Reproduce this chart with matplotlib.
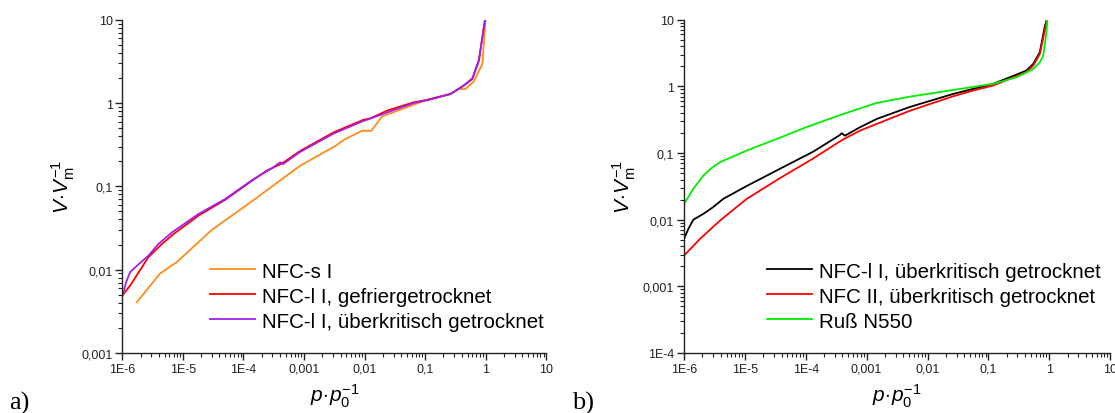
import numpy as np
import matplotlib
matplotlib.use("Agg")
import matplotlib.pyplot as plt
from matplotlib.ticker import LogLocator, FuncFormatter, NullFormatter

plt.rcParams['font.family'] = ['Liberation Sans', 'DejaVu Sans']
plt.rcParams['mathtext.fontset'] = 'custom'
plt.rcParams['mathtext.rm'] = 'Liberation Sans'
plt.rcParams['mathtext.it'] = 'Liberation Sans:italic'

# a) NFC-s I
ns_x = [1.73e-6, 4.2e-6, 7.9e-6, 3.0e-5, 1.56e-4, 4.3e-4, 8.7e-4, 3.4e-3, 4.5e-3,
        9.06e-3, 0.0129, 0.0194, 0.032, 0.107, 0.278, 0.358, 0.46, 0.63, 0.88, 0.99]
ns_y = [0.00405, 0.0090, 0.0123, 0.030, 0.0705, 0.122, 0.177, 0.31, 0.36,
        0.464, 0.464, 0.69, 0.79, 1.09, 1.31, 1.47, 1.47, 1.80, 2.94, 10]

# a) NFC-l I, gefriergetrocknet
nlg_x = [1e-6, 1.34e-6, 2.69e-6, 4.5e-6, 7.0e-6, 1.8e-5, 5.0e-5, 1.46e-4, 2.4e-4,
         3.8e-4, 4.4e-4, 8.7e-4, 3.08e-3, 9.6e-3, 0.0124, 0.0234, 0.0645, 0.107,
         0.26, 0.43, 0.6, 0.77, 0.97]
nlg_y = [0.0049, 0.0064, 0.0141, 0.0203, 0.0267, 0.0444, 0.069, 0.12, 0.154,
         0.18, 0.19, 0.267, 0.445, 0.63, 0.654, 0.81, 1.02, 1.09,
         1.28, 1.61, 1.94, 3.2, 10]

# a) NFC-l I, überkritisch getrocknet
nlu_x = [1e-6, 1.15e-6, 1.34e-6, 1.73e-6, 2.69e-6, 3.94e-6, 6.6e-6, 1.8e-5, 5.0e-5,
         1.46e-4, 3.0e-4, 4.0e-4, 4.5e-4, 8.7e-4, 3.08e-3, 9.6e-3, 0.0124, 0.0234,
         0.0645, 0.107, 0.26, 0.43, 0.6, 0.77, 0.97]
nlu_y = [0.0048, 0.0070, 0.0093, 0.0111, 0.0147, 0.0203, 0.028, 0.0465, 0.0705,
         0.122, 0.166, 0.194, 0.185, 0.26, 0.43, 0.61, 0.65, 0.77,
         1.0, 1.08, 1.28, 1.62, 1.98, 3.3, 10]

# b) NFC-l I, überkritisch getrocknet
b_x = [1e-6, 1.18e-6, 1.42e-6, 2.07e-6, 3.0e-6, 4.4e-6, 1.07e-5, 3.77e-5, 1.33e-4,
       3.6e-4, 3.9e-4, 4.4e-4, 7.8e-4, 1.46e-3, 5.1e-3, 0.0264, 0.06, 0.12, 0.42,
       0.545, 0.70, 0.85, 0.92]
b_y = [0.00515, 0.0073, 0.010, 0.0122, 0.0154, 0.0205, 0.032, 0.058, 0.105,
       0.185, 0.198, 0.182, 0.244, 0.324, 0.49, 0.77, 0.93, 1.09, 1.72,
       2.17, 3.25, 8.1, 10]

# b) NFC II, überkritisch getrocknet
r_x = [1e-6, 1.83e-6, 3.9e-6, 1.07e-5, 3.77e-5, 1.33e-4, 4.1e-4, 7.8e-4, 1.46e-3,
       5.1e-3, 0.0264, 0.06, 0.12, 0.42, 0.545, 0.70, 0.85, 0.91]
r_y = [0.0029, 0.00515, 0.0097, 0.0205, 0.042, 0.083, 0.16, 0.217, 0.273,
       0.43, 0.71, 0.88, 1.03, 1.63, 2.05, 3.06, 7.0, 10]

# b) Ruß N550
g_x = [1e-6, 1.18e-6, 1.42e-6, 2.07e-6, 2.8e-6, 3.9e-6, 6.0e-6, 1.07e-5, 3.77e-5,
       1.03e-4, 4.1e-4, 1.46e-3, 5.1e-3, 0.034, 0.12, 0.29, 0.545, 0.70, 0.795,
       0.855, 0.90, 0.935]
g_y = [0.0173, 0.022, 0.029, 0.0458, 0.059, 0.0728, 0.0865, 0.1087, 0.17,
       0.245, 0.385, 0.564, 0.70, 0.914, 1.09, 1.37, 1.82, 2.3, 2.89,
       4.6, 6.5, 10]

x_labels = {-6: '1E-6', -5: '1E-5', -4: '1E-4', -3: '0,001', -2: '0,01',
            -1: '0,1', 0: '1', 1: '10'}


def fmt(v, pos):
    e = int(round(np.log10(v)))
    return x_labels.get(e, '')


fig = plt.figure(figsize=(11.15, 4.14), dpi=100)
ax1 = fig.add_axes([0.1097, 0.145, 0.3803, 0.805])
ax2 = fig.add_axes([0.6135, 0.145, 0.3821, 0.805])

lw = 1.3
ax1.plot(ns_x, ns_y, color='#FF8C1A', lw=lw, label='NFC-s I')
ax1.plot(nlg_x, nlg_y, color='#FF0000', lw=lw, label='NFC-l I, gefriergetrocknet')
ax1.plot(nlu_x, nlu_y, color='#A020F0', lw=lw, label='NFC-l I, überkritisch getrocknet')
ax1.set_ylim(1e-3, 10)

ax2.plot(b_x, b_y, color='black', lw=lw, label='NFC-l I, überkritisch getrocknet')
ax2.plot(r_x, r_y, color='#FF0000', lw=lw, label='NFC II, überkritisch getrocknet')
ax2.plot(g_x, g_y, color='#00EE00', lw=lw, label='Ruß N550')
ax2.set_ylim(1e-4, 10)

for ax, xl in ((ax1, 0.207), (ax2, 0.195)):
    ax.set_xscale('log')
    ax.set_yscale('log')
    ax.set_xlim(1e-6, 10)
    for s in ('top', 'right'):
        ax.spines[s].set_visible(False)
    for s in ('left', 'bottom'):
        ax.spines[s].set_linewidth(1.0)
        ax.spines[s].set_color('#222222')
    ax.xaxis.set_major_locator(LogLocator(base=10, numticks=20))
    ax.yaxis.set_major_locator(LogLocator(base=10, numticks=20))
    ax.xaxis.set_minor_locator(LogLocator(base=10, subs=np.arange(2, 10), numticks=100))
    ax.yaxis.set_minor_locator(LogLocator(base=10, subs=np.arange(2, 10), numticks=100))
    ax.xaxis.set_major_formatter(FuncFormatter(fmt))
    ax.yaxis.set_major_formatter(FuncFormatter(fmt))
    ax.xaxis.set_minor_formatter(NullFormatter())
    ax.yaxis.set_minor_formatter(NullFormatter())
    ax.tick_params(which='major', direction='out', length=5, width=1.0,
                   labelsize=9, pad=2, color='#222222', labelcolor='#222222')
    ax.tick_params(which='minor', direction='out', length=3, width=0.8,
                   color='#222222')
    ax.set_xlabel(r'$p\!\cdot\!p_0^{-1}$', fontsize=15)
    ax.set_ylabel(r'$V\!\cdot\!V_\mathrm{m}^{-1}$', fontsize=15)
    ax.xaxis.set_label_coords(0.5, -0.085)
    ax.yaxis.set_label_coords(-0.108, 0.5)
    ax.legend(loc='upper left', bbox_to_anchor=(xl, 0.274), frameon=False,
              fontsize=14.8, handlelength=2.2, handletextpad=0.33,
              labelspacing=0.29, borderpad=0, borderaxespad=0)

fig.text(0.008, 0.01, 'a)', family='Liberation Serif', fontsize=19)
fig.text(0.513, 0.01, 'b)', family='Liberation Serif', fontsize=19)

fig.savefig('out.png', dpi=100)
